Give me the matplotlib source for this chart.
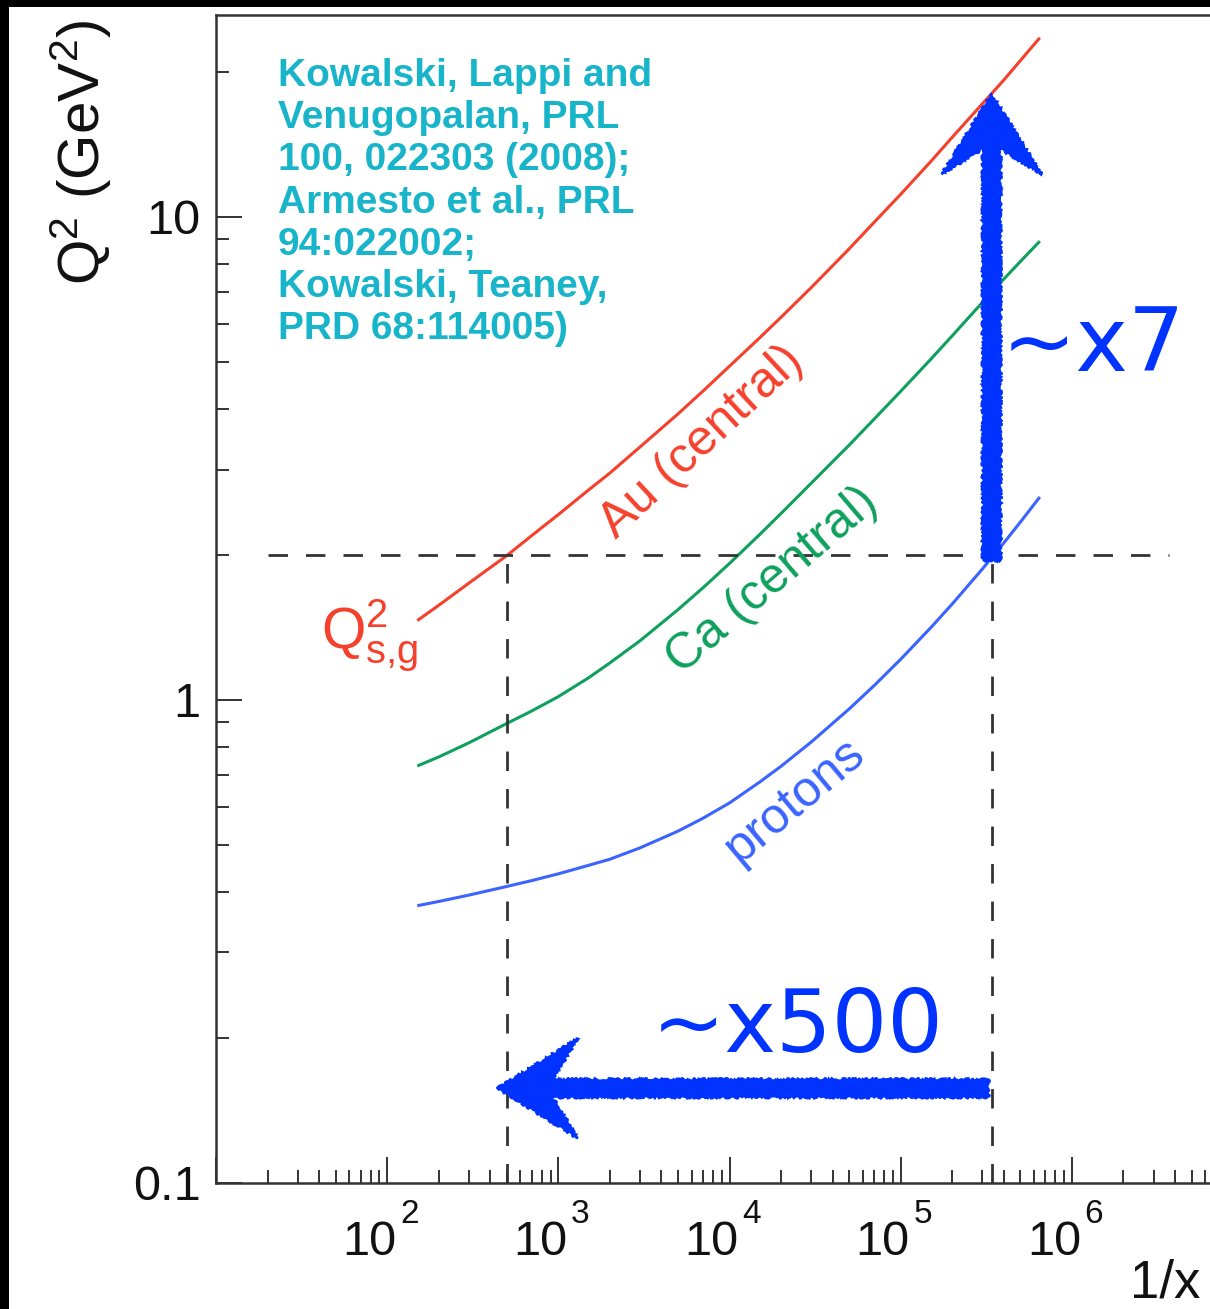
import numpy as np
import matplotlib
matplotlib.use("Agg")
import matplotlib.pyplot as plt
import matplotlib.ticker as mticker
import matplotlib.transforms as mtransforms
from matplotlib.patches import Rectangle, Polygon

plt.rcParams['font.family'] = ['Liberation Sans', 'DejaVu Sans']
plt.rcParams['mathtext.default'] = 'regular'

# saturation scale Q_s^2 (GeV^2) vs 1/x
inv_x = [150, 200, 300, 500, 700, 1e3, 1.5e3, 2e3, 3e3, 5e3, 7e3, 1e4,
         1.5e4, 2e4, 3e4, 5e4, 7e4, 1e5, 1.5e5, 2e5, 3e5, 4e5, 5e5, 6.5e5]
qs2_au = [1.46, 1.57, 1.745, 1.99, 2.19, 2.42, 2.72, 2.95, 3.34, 3.91, 4.36, 4.91,
          5.62, 6.20, 7.14, 8.59, 9.75, 11.14, 13.03, 14.62, 17.15, 19.2, 21.07, 23.5]
qs2_ca = [0.730, 0.762, 0.815, 0.894, 0.949, 1.016, 1.111, 1.193, 1.326, 1.538, 1.707, 1.917,
          2.200, 2.433, 2.81, 3.37, 3.815, 4.356, 5.076, 5.675, 6.654, 7.435, 8.085, 8.91]
qs2_p = [0.375, 0.3826, 0.3944, 0.411, 0.4227, 0.4365, 0.4545, 0.468, 0.494, 0.535, 0.569, 0.612,
         0.676, 0.729, 0.818, 0.958, 1.071, 1.214, 1.412, 1.580, 1.867, 2.113, 2.334, 2.632]

curve_names = ['Au (central)', 'Ca (central)', 'protons']
curve_colors = ['#f5402c', '#0ea05c', '#3a63ff']

# reference level and the two 1/x values where curves reach it
q2_ref = 2.0
x_lo = 500
x_hi = 3.4e5
q2_top = 18.0
arrow_y = 0.157

x_exponents = [2, 3, 4, 5, 6]
y_ticks = [0.1, 1, 10]
y_tick_labels = ['0.1', '1', '10']

refs = ('Kowalski, Lappi and\nVenugopalan, PRL\n100, 022303 (2008);\n'
        'Armesto et al., PRL\n94:022002;\nKowalski, Teaney,\nPRD 68:114005)')

fig = plt.figure(figsize=(12.1, 13.09), dpi=100)
fig.patch.set_facecolor('black')
fig.add_artist(Rectangle((9 / 1210, 0), 1, 1 - 7 / 1309, transform=fig.transFigure,
                         facecolor='white', edgecolor='none', zorder=-5))

ax = fig.add_axes([0.1785, 0.0963, 0.8215, 0.8923])
ax.set_xscale('log')
ax.set_yscale('log')
ax.set_xlim(10, 10 ** 6.807)
ax.set_ylim(0.1, 26.2)

for side in ['left', 'bottom', 'top']:
    ax.spines[side].set_color('#333333')
    ax.spines[side].set_linewidth(1.8)
ax.spines['right'].set_visible(False)

ax.xaxis.set_major_locator(mticker.LogLocator(base=10, numticks=20))
ax.xaxis.set_minor_locator(mticker.LogLocator(base=10, subs=np.arange(2, 10), numticks=20))
ax.xaxis.set_major_formatter(mticker.NullFormatter())
ax.xaxis.set_minor_formatter(mticker.NullFormatter())

ax.set_yticks(y_ticks)
ax.set_yticklabels(y_tick_labels)
ax.yaxis.set_minor_locator(mticker.LogLocator(base=10, subs=np.arange(2, 10), numticks=20))
ax.yaxis.set_minor_formatter(mticker.NullFormatter())

ax.tick_params(which='both', direction='in', color='#333333', width=1.4,
               top=False, right=False, labelcolor='#111111')
ax.tick_params(which='major', length=19)
ax.tick_params(which='minor', length=9.5)
ax.tick_params(axis='y', which='major', labelsize=35, pad=11)

# x tick labels drawn as "10" with a raised exponent
xlab_trans = mtransforms.blended_transform_factory(ax.transData, ax.transAxes)
for e in x_exponents:
    ax.text(10 ** e, -0.0616, '10', fontsize=35, color='#111111', ha='center', va='baseline',
            transform=mtransforms.offset_copy(xlab_trans, fig=fig, x=-18, units='dots'))
    ax.text(10 ** e, -0.0342, str(e), fontsize=24, color='#111111', ha='center', va='baseline',
            transform=mtransforms.offset_copy(xlab_trans, fig=fig, x=22, units='dots'))

# curves
for vals, col in zip([qs2_au, qs2_ca, qs2_p], curve_colors):
    ax.plot(inv_x, vals, color=col, lw=2.2, solid_capstyle='butt')

# dashed guide lines
dash = (0, (7, 6.5))
ax.plot([20, 3.7e6], [q2_ref, q2_ref], color='#333333', lw=2, ls=dash)
ax.plot([x_lo, x_lo], [0.1, q2_ref], color='#333333', lw=2, ls=dash)
ax.plot([x_hi, x_hi], [0.1, q2_ref], color='#333333', lw=2, ls=dash)

# curve labels
label_pos = [(6850, 3.42, 43), (17800, 1.763, 40.5), (24000, 0.62, 40)]
for name, col, (lx, ly, rot) in zip(curve_names, curve_colors, label_pos):
    ax.text(lx, ly, name, color=col, fontsize=36, rotation=rot,
            rotation_mode='anchor', ha='center', va='center')

ax.text(41, 1.36, r'$Q^{2}_{s{,}g}$', color=curve_colors[0], fontsize=41,
        ha='left', va='center')

ax.text(0.0624, 0.963, refs, transform=ax.transAxes, fontsize=28,
        fontweight='bold', color='#18b4c9', va='top', ha='left', linespacing=1.22)


def sketch_arrow(x0, y0, x1, y1, width=13, head_len=58, head_half=36, notch=40):
    p0 = ax.transData.transform((x0, y0))
    p1 = ax.transData.transform((x1, y1))
    d = p1 - p0
    length = np.hypot(*d) * 72 / fig.dpi
    ang = np.degrees(np.arctan2(d[1], d[0]))
    t = width / 2
    verts = [(0, 0), (-head_len, head_half), (-notch, t), (-length, t),
             (-length, -t), (-notch, -t), (-head_len, -head_half)]
    trans = (mtransforms.Affine2D().rotate_deg(ang).scale(fig.dpi / 72)
             + mtransforms.ScaledTranslation(x1, y1, ax.transData))
    poly = Polygon(verts, closed=True, transform=trans, facecolor='#0033ff',
                   edgecolor='#0033ff', lw=1.5, zorder=5)
    poly.set_sketch_params(scale=1.2, length=6, randomness=6)
    ax.add_artist(poly)


sketch_arrow(x_hi, q2_ref * 0.97, x_hi, q2_top)
sketch_arrow(x_hi * 0.96, arrow_y, x_lo * 0.88, arrow_y)

ax.text(3.9e5, 4.8, '~x7', color='#0033ff', fontsize=64, family='DejaVu Sans',
        ha='left', va='baseline')
ax.text(3500, 0.187, '~x500', color='#0033ff', fontsize=63, family='DejaVu Sans',
        ha='left', va='baseline')

fig.text(1200 / 1210, 1 - 1258 / 1309, '1/x', ha='right', va='top', fontsize=38,
         color='#111111')
fig.text(81 / 1210, 1 - 20 / 1309, r'$Q^{2}$ (GeV$^{2}$)', rotation=90,
         ha='center', va='top', fontsize=42, color='#111111')

fig.savefig('out.png', dpi=100, facecolor=fig.get_facecolor())
